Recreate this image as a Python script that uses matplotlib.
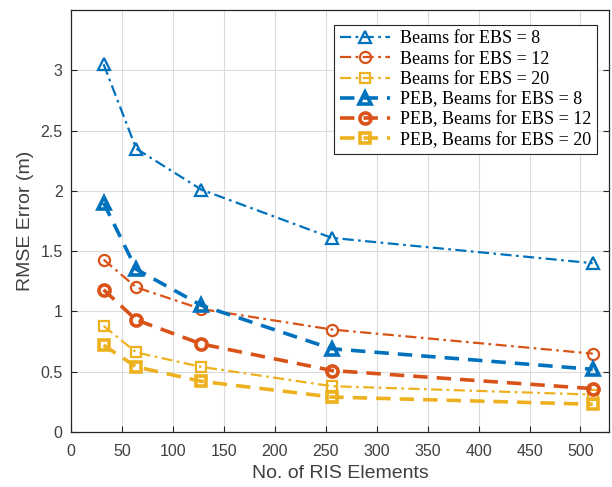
import matplotlib
matplotlib.use("Agg")
import matplotlib.pyplot as plt

ris = [32, 64, 128, 256, 512]
beams8 = [3.05, 2.35, 2.01, 1.61, 1.40]
beams12 = [1.43, 1.20, 1.02, 0.85, 0.65]
beams20 = [0.88, 0.66, 0.54, 0.38, 0.31]
peb8 = [1.90, 1.35, 1.05, 0.69, 0.52]
peb12 = [1.18, 0.93, 0.73, 0.51, 0.36]
peb20 = [0.72, 0.54, 0.42, 0.29, 0.23]
labels = ["Beams for EBS = 8", "Beams for EBS = 12", "Beams for EBS = 20",
          "PEB, Beams for EBS = 8", "PEB, Beams for EBS = 12", "PEB, Beams for EBS = 20"]

c1, c2, c3 = "#0072BD", "#D95319", "#EDB120"

plt.rcParams['font.family'] = ['Liberation Sans', 'DejaVu Sans']
fig = plt.figure(figsize=(6.12, 4.87), dpi=100)
W, H = 612, 487
L, R, T, B = 71, 609, 10, 432
ax = fig.add_axes([L / W, (H - B) / H, (R - L) / W, (B - T) / H])

dd = (0, (5, 2, 1.2, 2))
ax.plot(ris, beams8, color=c1, ls=dd, lw=1.6, marker='^', ms=9, mfc='none', mew=1.6, label=labels[0])
ax.plot(ris, beams12, color=c2, ls=dd, lw=1.6, marker='o', ms=8, mfc='none', mew=1.6, label=labels[1])
ax.plot(ris, beams20, color=c3, ls=dd, lw=1.6, marker='s', ms=6.5, mfc='none', mew=1.6, label=labels[2])
ax.plot(ris, peb8, color=c1, ls=(0, (4, 2.5)), lw=2.6, marker='^', ms=9, mfc='none', mew=2.6, label=labels[3])
ax.plot(ris, peb12, color=c2, ls=(0, (4, 2.5)), lw=2.6, marker='o', ms=8, mfc='none', mew=2.6, label=labels[4])
ax.plot(ris, peb20, color=c3, ls=(0, (4, 2.5)), lw=2.6, marker='s', ms=6.5, mfc='none', mew=2.6, label=labels[5])

ax.set_xlim(0, 528)
ax.set_ylim(0, 3.5)
ax.set_xticks(range(0, 501, 50))
ax.set_yticks([0, 0.5, 1, 1.5, 2, 2.5, 3])
ax.set_yticklabels(['0', '0.5', '1', '1.5', '2', '2.5', '3'])
ax.grid(True, color='#dcdcdc', lw=0.8)
ax.set_axisbelow(True)
for s in ax.spines.values():
    s.set_color('#262626')
    s.set_linewidth(0.9)
ax.tick_params(direction='in', labelsize=11.5, colors='#262626', labelcolor='#404040',
               length=4, top=False, right=True)
ax.tick_params(axis='x', pad=9)
ax.tick_params(axis='y', pad=6)
ax.set_xlabel("No. of RIS Elements", fontsize=14, color='#404040')
ax.set_ylabel("RMSE Error (m)", fontsize=14, color='#404040')
ax.xaxis.set_label_coords(0.5, (B - 474) / (B - T))
ax.xaxis.label.set_verticalalignment('center')
ax.yaxis.set_label_coords((25 - L) / (R - L), 0.5)
ax.yaxis.label.set_verticalalignment('center')

leg = ax.legend(loc='upper right', bbox_to_anchor=((597 - L) / (R - L), (B - 25) / (B - T)),
                borderaxespad=0,
                prop={'family': ['Liberation Serif'], 'size': 13},
                fancybox=False, framealpha=1, edgecolor='#262626',
                handlelength=2.8, labelspacing=0.18, borderpad=0.3, handletextpad=0.55)
leg.get_frame().set_linewidth(0.8)

fig.savefig("out.png", dpi=100)
